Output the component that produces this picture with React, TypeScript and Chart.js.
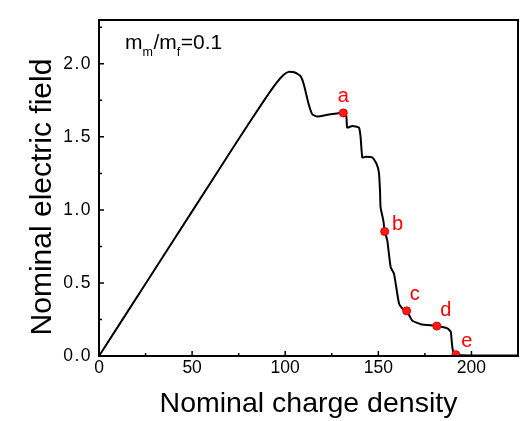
import React, { useEffect, useRef } from "react";
import { Chart, registerables } from "chart.js";

Chart.register(...registerables);

// Curve: nominal charge density (x) vs nominal electric field (y)
const curveX = [0, 25, 50, 75, 88.4, 95, 99.2, 101.9, 105.5, 108.2, 110, 112.6, 114.5, 117.2, 124.3, 131.2, 132.8, 133.3, 136, 139.6, 140.5, 141.4, 143.2, 146.8, 149.1, 150.3, 150.9, 151.2, 152.7, 153.4, 154.8, 156.6, 158.4, 161.1, 162.9, 165.2, 167, 168.3, 172.8, 181.4, 187.1, 188.9, 189.5, 190.2, 191.6, 200, 225];
const curveY = [0, 0.495, 0.99, 1.485, 1.745, 1.865, 1.925, 1.945, 1.939, 1.916, 1.859, 1.723, 1.655, 1.639, 1.655, 1.664, 1.643, 1.563, 1.575, 1.563, 1.495, 1.359, 1.364, 1.359, 1.314, 1.257, 1.132, 1.018, 0.927, 0.852, 0.791, 0.609, 0.564, 0.359, 0.325, 0.309, 0.268, 0.241, 0.218, 0.205, 0.189, 0.166, 0.087, 0.029, 0.009, 0.004, 0.004];

// Marked points
const markerX = [131.2, 153.4, 165.2, 181.4, 191.6];
const markerY = [1.664, 0.852, 0.309, 0.205, 0.009];
const markerLabels = ["a", "b", "c", "d", "e"];

// Axis ticks
const xMajorTicks = [0, 50, 100, 150, 200];
const xMinorTicks = [25, 75, 125, 175, 225];
const yMajorTicks = [0, 0.5, 1.0, 1.5, 2.0];
const yMinorTicks = [0.25, 0.75, 1.25, 1.75, 2.25];
const yTickLabels = ["0.0", "0.5", "1.0", "1.5", "2.0"];

const xTitle = "Nominal charge density";
const yTitle = "Nominal electric field";

const FONT = "'Liberation Sans', Arial, sans-serif";

// label offsets (px) relative to each marker
const labelOffsets = [
  [0, -16],
  [13, -7],
  [8, -16],
  [9, -16],
  [11, -13],
];

const decorPlugin = {
  id: "decor",
  afterDraw(chart: any) {
    const ctx = chart.ctx;
    const { left, right, top, bottom } = chart.chartArea;
    const xs = chart.scales.x;
    const ys = chart.scales.y;
    ctx.save();
    // frame
    ctx.strokeStyle = "#000";
    ctx.lineWidth = 2;
    ctx.strokeRect(left, top, right - left, bottom - top);
    // inward ticks
    ctx.lineWidth = 1.5;
    ctx.beginPath();
    xMajorTicks.forEach((v) => {
      const p = xs.getPixelForValue(v);
      ctx.moveTo(p, bottom);
      ctx.lineTo(p, bottom - 5);
    });
    xMinorTicks.forEach((v) => {
      const p = xs.getPixelForValue(v);
      ctx.moveTo(p, bottom);
      ctx.lineTo(p, bottom - 3);
    });
    yMajorTicks.forEach((v) => {
      const p = ys.getPixelForValue(v);
      ctx.moveTo(left, p);
      ctx.lineTo(left + 5, p);
    });
    yMinorTicks.forEach((v) => {
      const p = ys.getPixelForValue(v);
      ctx.moveTo(left, p);
      ctx.lineTo(left + 3, p);
    });
    ctx.stroke();

    // y tick labels (slightly spaced like the reference)
    ctx.fillStyle = "#000";
    ctx.font = `17.5px ${FONT}`;
    ctx.textAlign = "right";
    ctx.textBaseline = "middle";
    (ctx as any).letterSpacing = "1.5px";
    yMajorTicks.forEach((v, i) => {
      ctx.fillText(yTickLabels[i], left - 7, ys.getPixelForValue(v));
    });
    (ctx as any).letterSpacing = "0px";

    // marker labels
    ctx.fillStyle = "#ff0000";
    ctx.font = `20px ${FONT}`;
    ctx.textAlign = "center";
    ctx.textBaseline = "middle";
    markerLabels.forEach((t, i) => {
      const px = xs.getPixelForValue(markerX[i]);
      const py = ys.getPixelForValue(markerY[i]);
      ctx.fillText(t, px + labelOffsets[i][0], py + labelOffsets[i][1]);
    });

    // annotation m_m/m_f=0.1
    ctx.fillStyle = "#000";
    ctx.textAlign = "left";
    ctx.textBaseline = "alphabetic";
    let x = left + 26;
    const base = top + 29;
    const big = `21px ${FONT}`;
    const small = `12.5px ${FONT}`;
    const parts: [string, boolean][] = [
      ["m", false],
      ["m", true],
      ["/m", false],
      ["f", true],
      ["=0.1", false],
    ];
    parts.forEach(([s, sub]) => {
      ctx.font = sub ? small : big;
      ctx.fillText(s, x, sub ? base + 7 : base);
      x += ctx.measureText(s).width + (sub ? 0.5 : 0);
    });

    // axis titles
    ctx.textAlign = "center";
    ctx.textBaseline = "alphabetic";
    ctx.font = `28.5px ${FONT}`;
    ctx.fillText(xTitle, (left + right) / 2, 412);
    ctx.save();
    ctx.font = `30px ${FONT}`;
    ctx.translate(51, 197);
    ctx.rotate(-Math.PI / 2);
    ctx.fillText(yTitle, 0, 0);
    ctx.restore();

    ctx.restore();
  },
};

export default function App() {
  const ref = useRef<HTMLCanvasElement | null>(null);
  useEffect(() => {
    if (!ref.current) return;
    const chart = new Chart(ref.current, {
      type: "scatter",
      data: {
        datasets: [
          {
            label: "curve",
            data: curveX.map((x, i) => ({ x, y: curveY[i] })),
            showLine: true,
            borderColor: "#000",
            borderWidth: 2,
            pointRadius: 0,
            tension: 0.15,
            order: 2,
          },
          {
            label: "points",
            data: markerX.map((x, i) => ({ x, y: markerY[i] })),
            showLine: false,
            pointRadius: 4,
            pointBackgroundColor: "#ff1a1a",
            pointBorderColor: "#e00000",
            pointBorderWidth: 1,
            order: 1,
          },
        ],
      },
      options: {
        animation: false,
        responsive: false,
        maintainAspectRatio: false,
        layout: { padding: { left: 0, top: 20, right: 5, bottom: 0 } },
        plugins: {
          legend: { display: false },
          tooltip: { enabled: false },
        },
        scales: {
          x: {
            type: "linear",
            min: 0,
            max: 225,
            grid: { display: false, drawTicks: false },
            border: { display: false },
            afterFit: (s: any) => {
              s.height = 65;
            },
            afterBuildTicks: (s: any) => {
              s.ticks = xMajorTicks.map((v) => ({ value: v }));
            },
            ticks: {
              color: "#000",
              padding: 2,
              font: { size: 17.5, family: FONT },
              callback: (v: any) => String(v),
            },
          },
          y: {
            type: "linear",
            min: 0,
            max: 2.3,
            grid: { display: false, drawTicks: false },
            border: { display: false },
            afterFit: (s: any) => {
              s.width = 99;
            },
            afterBuildTicks: (s: any) => {
              s.ticks = yMajorTicks.map((v) => ({ value: v }));
            },
            ticks: { display: false },
          },
        },
      },
      plugins: [decorPlugin],
    });
    return () => chart.destroy();
  }, []);
  return (
    <div style={{ position: "fixed", left: 0, top: 0, width: 523, height: 421, background: "#fff" }}>
      <canvas ref={ref} width={523} height={421} style={{ width: 523, height: 421 }} />
    </div>
  );
}
